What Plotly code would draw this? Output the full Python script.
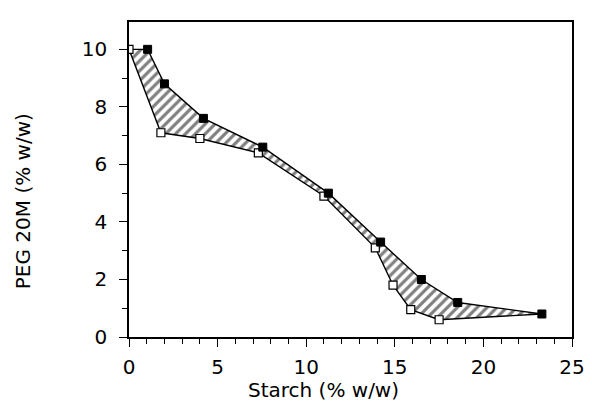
import plotly.graph_objects as go

# Phase boundary compositions (Starch %, PEG 20M %)
open_x = [0.0, 1.8, 4.0, 7.3, 11.0, 13.9, 14.9, 15.9, 17.5]
open_y = [10.0, 7.1, 6.9, 6.4, 4.9, 3.1, 1.8, 0.95, 0.6]
fill_x = [1.05, 2.0, 4.2, 7.55, 11.25, 14.2, 16.5, 18.55, 23.3]
fill_y = [10.0, 8.8, 7.6, 6.6, 5.0, 3.3, 2.0, 1.2, 0.8]

x_ticks = [0, 5, 10, 15, 20, 25]
y_ticks = [0, 2, 4, 6, 8, 10]

font_family = "DejaVu Sans, Verdana, sans-serif"

fig = go.Figure()

# Hatched region between the two curves
poly_x = open_x + fill_x[::-1] + [open_x[0]]
poly_y = open_y + fill_y[::-1] + [open_y[0]]
fig.add_trace(go.Scatter(
    x=poly_x, y=poly_y, mode="lines", fill="toself",
    fillcolor="rgba(0,0,0,0)",
    fillpattern=dict(shape="/", fgcolor="black", bgcolor="white", size=7, solidity=0.45),
    line=dict(color="black", width=1.4),
    hoverinfo="skip", showlegend=False,
))

fig.add_trace(go.Scatter(
    x=open_x, y=open_y, mode="markers",
    marker=dict(symbol="square", size=8, color="white", line=dict(color="black", width=1.2)),
    showlegend=False,
))
fig.add_trace(go.Scatter(
    x=fill_x, y=fill_y, mode="markers",
    marker=dict(symbol="square", size=8, color="black", line=dict(color="black", width=1)),
    showlegend=False,
))

axis_common = dict(
    showline=True, linecolor="black", linewidth=1.6, mirror=True,
    ticks="outside", ticklen=8, tickwidth=1.3, tickcolor="black",
    showgrid=False, zeroline=False, automargin=False,
    tickfont=dict(family=font_family, size=20, color="black"),
    minor=dict(ticks="outside", ticklen=5, tickwidth=1.2, tickcolor="black", dtick=1),
)

title_font = dict(family=font_family, size=20, color="black")

fig.update_layout(
    width=592, height=405,
    margin=dict(l=129, r=20, t=22, b=68),
    paper_bgcolor="white", plot_bgcolor="white",
    xaxis=dict(range=[0, 25], tickvals=x_ticks, ticklabelstandoff=3, **axis_common),
    yaxis=dict(range=[0, 10.95], tickvals=y_ticks, ticklabelstandoff=8, **axis_common),
    annotations=[
        dict(text="Starch (% w/w)", xref="paper", yref="paper", x=0.44, y=-0.168,
             xanchor="center", yanchor="middle", showarrow=False, font=title_font),
        dict(text="PEG 20M (% w/w)", xref="paper", yref="paper", x=-0.24, y=0.43,
             xanchor="center", yanchor="middle", showarrow=False, textangle=-90, font=title_font),
    ],
)

fig.write_html("out.html")
